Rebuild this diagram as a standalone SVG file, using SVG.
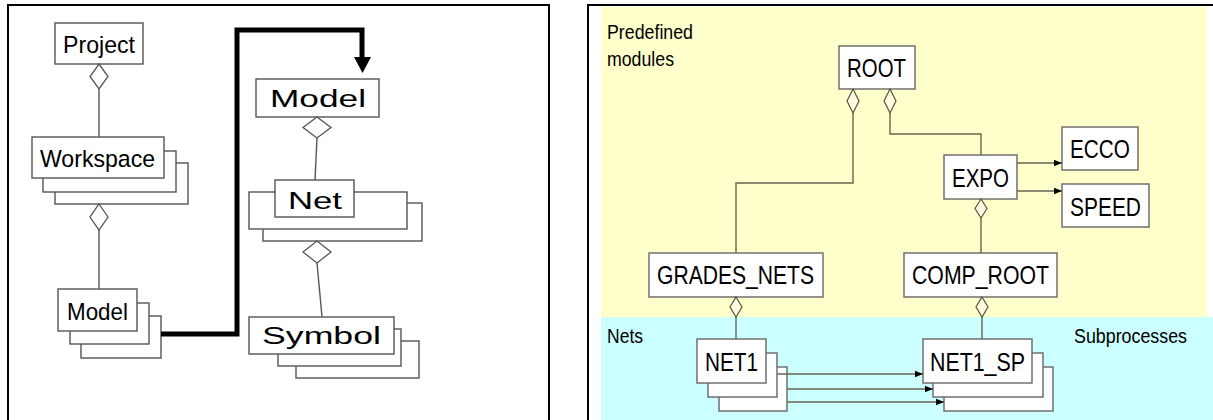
<svg xmlns="http://www.w3.org/2000/svg" width="1213" height="420" viewBox="0 0 1213 420">
  <defs>
    <style>
      .frame { fill: none; stroke: #000; stroke-width: 2; }
      .box { fill: #fff; stroke: #555; stroke-width: 1.4; }
      .box2 { fill: #fff; stroke: #666; stroke-width: 1.4; }
      .link { fill: none; stroke: #555; stroke-width: 1.4; }
      .link2 { fill: none; stroke: #66664f; stroke-width: 1.4; }
      .dia { fill: #fff; stroke: #555; stroke-width: 1.3; }
      .dia2 { fill: #fffbe0; stroke: #55553f; stroke-width: 1.2; }
      .big { fill: none; stroke: #000; stroke-width: 5; stroke-linejoin: miter; }
      .t { font-family: "Liberation Sans", Arial, sans-serif; fill: #000; }
      .lt { font-size: 24.5px; }
      .wt { font-size: 23.5px; }
      .nt { font-size: 26.5px; }
      .zt { font-size: 20px; }
    </style>
    <marker id="arr" viewBox="0 0 8 8" refX="8" refY="4" markerWidth="8" markerHeight="8" markerUnits="userSpaceOnUse" orient="auto">
      <path d="M0,0.8 L8,4 L0,7.2 Z" fill="#000"/>
    </marker>
  </defs>

  <!-- panel frames -->
  <rect x="0" y="0" width="1213" height="420" fill="#fff"/>
  <path class="frame" d="M8,420 V5 H549 V420"/>
  <rect x="601" y="7" width="606" height="310" fill="#ffffcc"/>
  <rect x="601" y="317" width="612" height="103" fill="#ccffff"/>
  <path class="frame" d="M588,420 V5 H1213"/>

  <!-- left panel: containment hierarchy -->
  <g id="project">
    <rect class="box" x="55" y="23" width="88" height="41"/>
    <text class="t lt" x="63" y="53" textLength="72" lengthAdjust="spacingAndGlyphs">Project</text>
  </g>
  <g id="workspace">
    <rect class="box" x="55" y="163" width="133" height="41"/>
    <rect class="box" x="43" y="151" width="133" height="41"/>
    <rect class="box" x="32" y="137" width="132" height="41"/>
    <text class="t lt" x="40" y="167" textLength="115" lengthAdjust="spacingAndGlyphs">Workspace</text>
  </g>
  <g id="model-left">
    <rect class="box" x="81" y="316" width="80" height="42"/>
    <rect class="box" x="70" y="303" width="79" height="41"/>
    <rect class="box" x="58" y="289" width="79" height="42"/>
    <text class="t lt" x="67" y="320" textLength="61" lengthAdjust="spacingAndGlyphs">Model</text>
  </g>
  <g id="model-right">
    <rect class="box" x="256" y="79" width="123" height="38"/>
    <text class="t wt" x="270" y="107" textLength="96" lengthAdjust="spacingAndGlyphs">Model</text>
  </g>
  <g id="net">
    <rect class="box" x="263" y="203" width="159" height="38"/>
    <rect class="box" x="249" y="192" width="158" height="37"/>
    <rect class="box" x="275" y="180" width="79" height="37"/>
    <text class="t wt" x="288" y="209" textLength="54" lengthAdjust="spacingAndGlyphs">Net</text>
  </g>
  <g id="symbol">
    <rect class="box" x="296" y="341" width="123" height="37"/>
    <rect class="box" x="278" y="329" width="123" height="37"/>
    <rect class="box" x="249" y="317" width="145" height="37"/>
    <text class="t wt" x="262" y="344" textLength="119" lengthAdjust="spacingAndGlyphs">Symbol</text>
  </g>

  <!-- right panel: module tree -->
  <text class="t zt" x="607" y="39" textLength="86" lengthAdjust="spacingAndGlyphs">Predefined</text>
  <text class="t zt" x="607" y="66" textLength="67" lengthAdjust="spacingAndGlyphs">modules</text>
  <text class="t zt" x="607" y="343" textLength="36" lengthAdjust="spacingAndGlyphs">Nets</text>
  <text class="t zt" x="1074" y="343" textLength="113" lengthAdjust="spacingAndGlyphs">Subprocesses</text>

  <g id="root">
    <rect class="box2" x="839" y="46" width="76" height="43"/>
    <text class="t nt" x="847" y="77" textLength="59" lengthAdjust="spacingAndGlyphs">ROOT</text>
  </g>
  <g id="expo">
    <rect class="box2" x="944" y="155" width="73" height="44"/>
    <text class="t nt" x="952" y="187" textLength="57" lengthAdjust="spacingAndGlyphs">EXPO</text>
  </g>
  <g id="ecco">
    <rect class="box2" x="1062" y="127" width="76" height="43"/>
    <text class="t nt" x="1070" y="158" textLength="60" lengthAdjust="spacingAndGlyphs">ECCO</text>
  </g>
  <g id="speed">
    <rect class="box2" x="1062" y="184" width="87" height="43"/>
    <text class="t nt" x="1070" y="216" textLength="71" lengthAdjust="spacingAndGlyphs">SPEED</text>
  </g>
  <g id="grades-nets">
    <rect class="box2" x="649" y="253" width="174" height="44"/>
    <text class="t nt" x="657" y="284" textLength="157" lengthAdjust="spacingAndGlyphs">GRADES_NETS</text>
  </g>
  <g id="comp-root">
    <rect class="box2" x="904" y="253" width="153" height="44"/>
    <text class="t nt" x="912" y="284" textLength="137" lengthAdjust="spacingAndGlyphs">COMP_ROOT</text>
  </g>
  <g id="net1">
    <rect class="box2" x="719" y="367" width="68" height="44"/>
    <rect class="box2" x="708" y="353" width="69" height="44"/>
    <rect class="box2" x="697" y="339" width="69" height="44"/>
    <text class="t nt" x="705" y="371" textLength="53" lengthAdjust="spacingAndGlyphs">NET1</text>
  </g>
  <g id="net1-sp">
    <rect class="box2" x="944" y="367" width="109" height="44"/>
    <rect class="box2" x="933" y="353" width="110" height="44"/>
    <rect class="box2" x="923" y="339" width="109" height="44"/>
    <text class="t nt" x="930" y="371" textLength="95" lengthAdjust="spacingAndGlyphs">NET1_SP</text>
  </g>

  <!-- connectors -->
  <g id="connectors">
    <!-- left panel aggregation links -->
    <path class="link" d="M99,89 V137"/>
    <polygon class="dia" points="99,64 108,76.5 99,89 90,76.5"/>
    <path class="link" d="M99,230 V289"/>
    <polygon class="dia" points="99,204 108,217 99,230 90,217"/>
    <path class="link" d="M317,138 L315,180"/>
    <polygon class="dia" points="317,117 331,127.5 317,138 303,127.5"/>
    <path class="link" d="M317,263 L322,317"/>
    <polygon class="dia" points="317,241 331,252 317,263 303,252"/>
    <!-- heavy link between the two views -->
    <path class="big" d="M161,334 H237 V30 H362 V58"/>
    <polygon points="354,57 371,57 362.5,73" fill="#000"/>

    <!-- right panel aggregation links -->
    <path class="link2" d="M853,113 V183 H736 V253"/>
    <polygon class="dia2" points="853,89 859,101 853,113 847,101"/>
    <path class="link2" d="M890,113 V134 H981 V155"/>
    <polygon class="dia2" points="890,89 896,101 890,113 884,101"/>
    <path class="link2" d="M981,218 V253"/>
    <polygon class="dia2" points="981,199 987,208.5 981,218 975,208.5"/>
    <path class="link2" d="M982,317 V339"/>
    <polygon class="dia2" points="982,297 988,307 982,317 976,307"/>
    <path class="link2" d="M736,317 V339"/>
    <polygon class="dia2" points="736,297 742,307 736,317 730,307"/>

    <!-- uses links -->
    <path class="link2" d="M1017,163 H1062" stroke="#333" marker-end="url(#arr)"/>
    <path class="link2" d="M1017,191 H1062" stroke="#333" marker-end="url(#arr)"/>
    <path class="link2" d="M777,374 H923" stroke="#333" marker-end="url(#arr)"/>
    <path class="link2" d="M787,389 H933" stroke="#333" marker-end="url(#arr)"/>
    <path class="link2" d="M787,402 H944" stroke="#333" marker-end="url(#arr)"/>
  </g>
</svg>
